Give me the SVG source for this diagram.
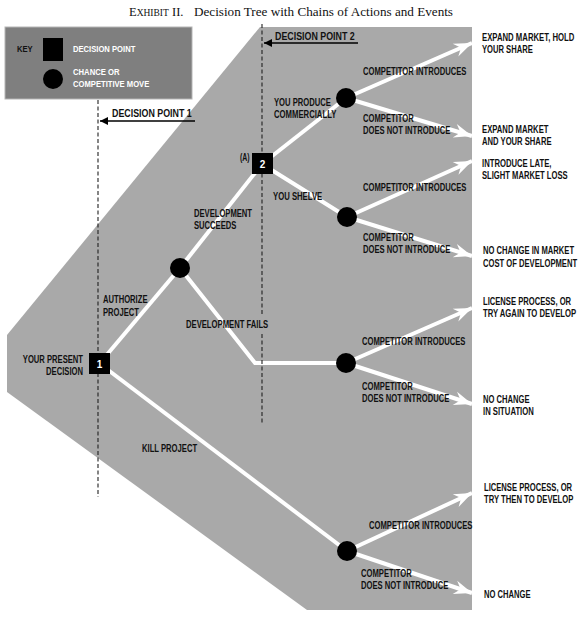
<svg xmlns="http://www.w3.org/2000/svg" width="585" height="617" viewBox="0 0 585 617">
<style>
.lbl{font-family:"Liberation Sans",Arial,sans-serif;font-weight:bold;font-size:10px;fill:#111}
.key{font-size:9.6px}
.big{font-size:11.5px}
.wt{fill:#fff}
.branch{stroke:#fff;stroke-width:4;fill:none;stroke-linejoin:miter}
.arr{marker-end:url(#wa)}
.dash{stroke:#222;stroke-width:1.1;stroke-dasharray:4 2.5;fill:none}
.chance{fill:#000}
.dec{fill:#000}
.title{font-family:"Liberation Serif","Times New Roman",serif;fill:#111}
</style>
<defs>
<marker id="wa" markerUnits="userSpaceOnUse" viewBox="-19 -8 20 16" refX="0" refY="0" markerWidth="20" markerHeight="16" orient="auto">
<path d="M0,0 L-18,-7 L-12,0 L-18,7 Z" fill="#fff"/>
</marker>
<marker id="ba" markerUnits="userSpaceOnUse" viewBox="-9 -5 10 10" refX="0" refY="0" markerWidth="10" markerHeight="10" orient="auto">
<path d="M0,0 L-8,-4 L-8,4 Z" fill="#000"/>
</marker>
</defs>

<text class="title" x="129" y="16" font-size="12.5"><tspan>E</tspan><tspan font-size="9.5">XHIBIT</tspan><tspan> II.</tspan></text>
<text class="title" x="194" y="16" font-size="13" textLength="259" lengthAdjust="spacingAndGlyphs">Decision Tree with Chains of Actions and Events</text>

<polygon id="field" points="260,27 472,27 472,610 307,610 7,392 7,335" fill="#a9a9a9"/>

<g id="key">
<rect x="5" y="27" width="187" height="72" fill="#7f7f7f" stroke="#b5b5b5" stroke-width="1"/>
<text class="lbl key" x="17" y="52" textLength="15.7" lengthAdjust="spacingAndGlyphs">KEY</text>
<rect x="43" y="38" width="20" height="23" fill="#000"/>
<text class="lbl key wt" x="73" y="52" textLength="62.3" lengthAdjust="spacingAndGlyphs">DECISION POINT</text>
<circle cx="53" cy="79" r="10" fill="#000"/>
<text class="lbl key wt" x="73" y="75" textLength="46.6" lengthAdjust="spacingAndGlyphs">CHANCE OR</text>
<text class="lbl key wt" x="73" y="87" textLength="76.3" lengthAdjust="spacingAndGlyphs">COMPETITIVE MOVE</text>
</g>

<g id="connectors">
<line class="branch" x1="99.5" y1="363.5" x2="180" y2="268"/>
<line class="branch" x1="99.5" y1="363.5" x2="347" y2="551"/>
<line class="branch" x1="180" y1="268" x2="262" y2="164"/>
<polyline class="branch" points="180,268 255,363 346,363"/>
<line class="branch" x1="262" y1="164" x2="346" y2="98"/>
<line class="branch" x1="262" y1="164" x2="347" y2="217"/>
<line class="branch arr" x1="346" y1="98" x2="472" y2="43"/>
<line class="branch arr" x1="346" y1="98" x2="472" y2="136"/>
<line class="branch arr" x1="347" y1="217" x2="472" y2="161"/>
<line class="branch arr" x1="347" y1="217" x2="472" y2="256"/>
<line class="branch arr" x1="346" y1="363" x2="472" y2="308"/>
<line class="branch arr" x1="346" y1="363" x2="472" y2="404"/>
<line class="branch arr" x1="347" y1="551" x2="472" y2="493"/>
<line class="branch arr" x1="347" y1="551" x2="472" y2="593"/>
</g>

<g id="decision-lines">
<line class="dash" x1="98" y1="100" x2="98" y2="497"/>
<line class="dash" x1="262" y1="24" x2="262" y2="315"/>
<line class="dash" x1="262" y1="334" x2="262" y2="423"/>
<line x1="195" y1="121" x2="100" y2="121" stroke="#000" stroke-width="1.4" marker-end="url(#ba)"/>
<text class="lbl big" x="112" y="117" textLength="79.7" lengthAdjust="spacingAndGlyphs">DECISION POINT 1</text>
<line x1="358" y1="43" x2="264" y2="43" stroke="#000" stroke-width="1.4" marker-end="url(#ba)"/>
<text class="lbl big" x="275" y="40" textLength="79.7" lengthAdjust="spacingAndGlyphs">DECISION POINT 2</text>
</g>

<g id="node1">
<rect class="dec" x="89" y="353" width="21" height="21"/>
<text class="lbl wt" x="99.5" y="368" font-size="11.5" text-anchor="middle">1</text>
<text class="lbl" x="83" y="363" text-anchor="end" textLength="60.2" lengthAdjust="spacingAndGlyphs">YOUR PRESENT</text>
<text class="lbl" x="83" y="375" text-anchor="end" textLength="36.9" lengthAdjust="spacingAndGlyphs">DECISION</text>
</g>

<g id="chanceA"><circle class="chance" cx="180" cy="268" r="10"/></g>

<g id="node2">
<rect class="dec" x="252" y="153" width="21" height="21"/>
<text class="lbl wt" x="262.5" y="168" font-size="11.5" text-anchor="middle">2</text>
<text class="lbl" x="240" y="161" font-size="8.8" textLength="9.7" lengthAdjust="spacingAndGlyphs">(A)</text>
</g>

<g id="chanceProduce"><circle class="chance" cx="346" cy="98" r="10"/></g>
<g id="chanceShelve"><circle class="chance" cx="347" cy="217" r="10"/></g>
<g id="chanceFails"><circle class="chance" cx="346" cy="363" r="10"/></g>
<g id="chanceKill"><circle class="chance" cx="347" cy="551" r="10"/></g>

<g id="labels">
<text class="lbl" x="103" y="303" textLength="44.5" lengthAdjust="spacingAndGlyphs">AUTHORIZE</text>
<text class="lbl" x="103" y="316" textLength="36" lengthAdjust="spacingAndGlyphs">PROJECT</text>
<text class="lbl" x="194" y="217" textLength="58" lengthAdjust="spacingAndGlyphs">DEVELOPMENT</text>
<text class="lbl" x="194" y="229" textLength="42.4" lengthAdjust="spacingAndGlyphs">SUCCEEDS</text>
<text class="lbl" x="186" y="328" textLength="82.2" lengthAdjust="spacingAndGlyphs">DEVELOPMENT FAILS</text>
<text class="lbl" x="142" y="452" textLength="55.1" lengthAdjust="spacingAndGlyphs">KILL PROJECT</text>
<text class="lbl" x="274" y="106" textLength="56.8" lengthAdjust="spacingAndGlyphs">YOU PRODUCE</text>
<text class="lbl" x="274" y="118" textLength="62.3" lengthAdjust="spacingAndGlyphs">COMMERCIALLY</text>
<text class="lbl" x="273" y="200" textLength="49.2" lengthAdjust="spacingAndGlyphs">YOU SHELVE</text>

<text class="lbl" x="363" y="75" textLength="103.4" lengthAdjust="spacingAndGlyphs">COMPETITOR INTRODUCES</text>
<text class="lbl" x="363" y="122" textLength="50.8" lengthAdjust="spacingAndGlyphs">COMPETITOR</text>
<text class="lbl" x="363" y="134" textLength="87.3" lengthAdjust="spacingAndGlyphs">DOES NOT INTRODUCE</text>
<text class="lbl" x="363" y="191" textLength="103.4" lengthAdjust="spacingAndGlyphs">COMPETITOR INTRODUCES</text>
<text class="lbl" x="363" y="241" textLength="50.8" lengthAdjust="spacingAndGlyphs">COMPETITOR</text>
<text class="lbl" x="363" y="253" textLength="87.3" lengthAdjust="spacingAndGlyphs">DOES NOT INTRODUCE</text>
<text class="lbl" x="362" y="345" textLength="103.4" lengthAdjust="spacingAndGlyphs">COMPETITOR INTRODUCES</text>
<text class="lbl" x="362" y="390" textLength="50.8" lengthAdjust="spacingAndGlyphs">COMPETITOR</text>
<text class="lbl" x="362" y="402" textLength="87.3" lengthAdjust="spacingAndGlyphs">DOES NOT INTRODUCE</text>
<text class="lbl" x="369" y="529" textLength="103.4" lengthAdjust="spacingAndGlyphs">COMPETITOR INTRODUCES</text>
<text class="lbl" x="361" y="577" textLength="50.8" lengthAdjust="spacingAndGlyphs">COMPETITOR</text>
<text class="lbl" x="361" y="589" textLength="87.3" lengthAdjust="spacingAndGlyphs">DOES NOT INTRODUCE</text>

<text class="lbl" x="482" y="41" textLength="92.4" lengthAdjust="spacingAndGlyphs">EXPAND MARKET, HOLD</text>
<text class="lbl" x="482" y="53" textLength="50.8" lengthAdjust="spacingAndGlyphs">YOUR SHARE</text>
<text class="lbl" x="482" y="133" textLength="66.5" lengthAdjust="spacingAndGlyphs">EXPAND MARKET</text>
<text class="lbl" x="482" y="145" textLength="69.5" lengthAdjust="spacingAndGlyphs">AND YOUR SHARE</text>
<text class="lbl" x="482" y="167" textLength="69.5" lengthAdjust="spacingAndGlyphs">INTRODUCE LATE,</text>
<text class="lbl" x="482" y="179" textLength="85.6" lengthAdjust="spacingAndGlyphs">SLIGHT MARKET LOSS</text>
<text class="lbl" x="483" y="254" textLength="91.1" lengthAdjust="spacingAndGlyphs">NO CHANGE IN MARKET</text>
<text class="lbl" x="483" y="267" textLength="94.1" lengthAdjust="spacingAndGlyphs">COST OF DEVELOPMENT</text>
<text class="lbl" x="483" y="305" textLength="88.1" lengthAdjust="spacingAndGlyphs">LICENSE PROCESS, OR</text>
<text class="lbl" x="483" y="317" textLength="93.2" lengthAdjust="spacingAndGlyphs">TRY AGAIN TO DEVELOP</text>
<text class="lbl" x="483" y="403" textLength="46.6" lengthAdjust="spacingAndGlyphs">NO CHANGE</text>
<text class="lbl" x="483" y="415" textLength="50.8" lengthAdjust="spacingAndGlyphs">IN SITUATION</text>
<text class="lbl" x="484" y="491" textLength="88.1" lengthAdjust="spacingAndGlyphs">LICENSE PROCESS, OR</text>
<text class="lbl" x="484" y="503" textLength="89.4" lengthAdjust="spacingAndGlyphs">TRY THEN TO DEVELOP</text>
<text class="lbl" x="484" y="598" textLength="46.6" lengthAdjust="spacingAndGlyphs">NO CHANGE</text>
</g>
</svg>
